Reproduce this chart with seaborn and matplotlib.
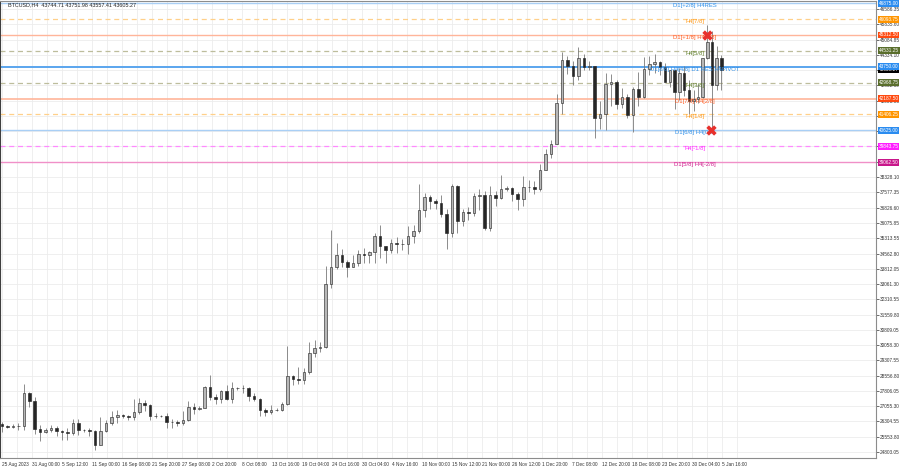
import matplotlib
matplotlib.use("Agg")
import matplotlib.pyplot as plt
import matplotlib.transforms as mtransforms
import seaborn as sns
import pandas as pd
import numpy as np

# daily candles, 25 Aug 2023 .. 5 Jan 2024
start = pd.Timestamp("2023-08-25")

opens = [26160, 26060, 26010, 26090, 26100, 27720, 27300,
         25930, 25800, 25870, 25970, 25820, 25780, 25750, 26240, 25910, 25890, 25830, 25160, 25840, 26230,
         26530, 26600, 26570, 26530, 26760, 27210, 27130, 26570, 26580, 26580, 26260, 26300, 26220, 26360, 27020, 26910,
         26970, 27990, 27500, 27430, 27780, 27410, 27930, 27960, 27930, 27580, 27390, 26870, 26760, 26860, 26860, 27150,
         28520, 28410, 28330, 28720, 29680, 29920, 29990, 33080, 33900, 34500, 34150, 33900, 34090, 34530, 34500,
         34660, 35420, 34940, 34730, 35080, 35050, 35050, 35420, 35650, 36700, 37330, 37140, 37070, 36500, 35550,
         37880, 36160, 36600, 36580, 37380, 37450, 35800, 37420, 37300, 37720, 37790, 37480, 37240, 37830, 37850,
         37720, 38690, 39470, 39970, 41980, 44080, 43770, 43290, 44170, 43720, 43790, 41240, 41450, 42890, 43020, 41940,
         42260, 41360, 42660, 42260, 43660, 43870, 43990, 43740, 43010, 43590, 42520, 43440, 42590, 42070, 42140,
         42280, 44180, 44950, 42850, 44180]
highs = [26300, 26120, 26180, 26240, 28140, 27760, 27500,
         26130, 25980, 26130, 26080, 25880, 26000, 26440, 26420, 25940, 25960, 25880, 26530, 26390, 26800,
         26890, 26670, 26620, 27400, 27480, 27380, 27150, 26720, 26630, 26730, 26420, 26400, 26820, 27300, 27220, 27080,
         28050, 28580, 27650, 27830, 28120, 28260, 28020, 28110, 27990, 27720, 27470, 26950, 27100, 26970, 27270, 30000,
         28610, 28980, 28920, 30200, 30320, 30220, 33950, 35700, 35100, 34800, 34250, 34480, 34740, 34840, 34700,
         35580, 35980, 34940, 35260, 35390, 35280, 35900, 35980, 37970, 37520, 37420, 37230, 37420, 36760, 37960,
         37930, 36760, 36850, 37520, 37760, 37650, 37870, 37650, 38420, 37900, 37820, 37580, 38380, 38180, 38150,
         38980, 39700, 40170, 42400, 44490, 44300, 44050, 44700, 44360, 44040, 43800, 42070, 43440, 43400, 43090, 42700,
         42420, 42750, 43480, 44240, 44290, 44370, 44020, 43950, 43600, 43600, 43680, 43800, 43120, 42600, 42880,
         44200, 45800, 45500, 44770, 44340]
lows = [25780, 25990, 25990, 25880, 25900, 27030, 25700,
        25330, 25730, 25800, 25600, 25400, 25400, 25640, 25650, 25800, 25600, 24920, 25130, 25770, 26130,
        26230, 26480, 26400, 26380, 26680, 26840, 26360, 26500, 26520, 26000, 25990, 26100, 26120, 26340, 26660, 26890,
        26960, 27340, 27170, 27220, 27370, 27190, 27860, 27700, 27300, 27320, 26560, 26560, 26680, 26820, 26820, 27120,
        28100, 28130, 28170, 28620, 29500, 29700, 29900, 32850, 33800, 33880, 33400, 33900, 33950, 34100, 34080,
        34100, 34350, 34100, 34590, 34570, 34750, 34540, 35100, 35560, 36350, 36760, 36760, 36370, 34780, 35370,
        35550, 35900, 36200, 36400, 36690, 35700, 35650, 36880, 37250, 37620, 37160, 36700, 36900, 37600, 37500,
        37620, 38650, 39280, 39970, 41420, 43400, 42830, 43080, 43580, 43580, 40230, 40700, 40620, 41810, 41660, 41720,
        41250, 40530, 41820, 42200, 43340, 43430, 43330, 43000, 42760, 41680, 42100, 42320, 41450, 41550, 41970,
        42200, 44150, 40600, 42630, 42630]
closes = [26060, 26010, 26090, 26100, 27720, 27300, 25930,
          25800, 25870, 25970, 25820, 25780, 25750, 26240, 25910, 25890, 25830, 25160, 25840, 26230, 26530,
          26600, 26570, 26530, 26760, 27210, 27130, 26570, 26580, 26580, 26260, 26300, 26220, 26360, 27020, 26910, 26970,
          27990, 27500, 27430, 27780, 27410, 27930, 27960, 27930, 27580, 27390, 26870, 26760, 26860, 26860, 27150, 28520,
          28410, 28330, 28720, 29680, 29920, 29990, 33080, 33900, 34500, 34150, 33900, 34090, 34530, 34500, 34660,
          35420, 34940, 34730, 35080, 35050, 35050, 35420, 35650, 36700, 37330, 37140, 37070, 36500, 35550, 37880,
          36160, 36600, 36580, 37380, 37450, 35800, 37420, 37300, 37720, 37790, 37480, 37240, 37830, 37850, 37720,
          38690, 39470, 39970, 41980, 44080, 43770, 43290, 44170, 43720, 43790, 41240, 41450, 42890, 43020, 41940, 42260,
          41360, 42660, 42260, 43660, 43870, 43990, 43740, 43010, 43590, 42520, 43440, 42590, 42070, 42140, 42280,
          44180, 44950, 42850, 44180, 43600]

# Murrey math levels drawn on the chart
level_prices = [46875.00, 46093.75, 45312.50, 44531.25, 43750.00, 42968.75,
                42187.50, 41406.25, 40625.00, 39843.75, 39062.50]
level_names = ["D1[+2/8] H4RES", "H4[7/8]", "D1[+1/8] H4[6/8]", "H4[5/8]",
               "D1[8/8] H4[4/8] D1 RES H4PIVOT", "H4[3/8]", "D1[7/8] H4[2/8]",
               "H4[1/8]", "D1[6/8] H4[0/8]", "H4[-1/8]", "D1[5/8] H4[-2/8]"]
level_colors = ["#2f8fe8", "#ff9a1a", "#ff5a1f", "#5f7f2a", "#2f8fe8", "#5f7f2a",
                "#ff5a1f", "#ff9a1a", "#2f8fe8", "#ff2cff", "#d0208f"]
line_colors = ["#a9cff5", "#ffd08a", "#ffb59a", "#bdbd9c", "#5aa5ee", "#bdbd9c",
               "#ffb59a", "#ffd08a", "#a9cff5", "#ff8aff", "#f090c8"]
line_dashed = [False, True, False, True, False, True, False, True, False, True, False]
line_widths = [1.0, 0.9, 1.0, 0.9, 1.4, 0.9, 1.2, 0.9, 1.0, 0.9, 1.0]
box_colors = ["#2a8cf0", "#ff9500", "#ff4a10", "#5a6e2c", "#2a8cf0", "#5a6e2c",
              "#ff4a10", "#ff9500", "#2a8cf0", "#ff1cff", "#c8168a"]

last_price = 43605.27
header = "BTCUSD,H4  43744.71 43751.98 43557.41 43605.27"

# marks on the 2 Jan spike and the 3 Jan drop
mark_times = ["2024-01-02 12:00", "2024-01-03 06:00"]
mark_prices = [45312.50, 40625.00]

tick_times = ["2023-08-25 12:00", "2023-08-31 00:00", "2023-09-05 12:00", "2023-09-11 00:00",
              "2023-09-16 08:00", "2023-09-21 20:00", "2023-09-27 08:00", "2023-10-02 20:00",
              "2023-10-08 08:00", "2023-10-13 16:00", "2023-10-19 04:00", "2023-10-24 16:00",
              "2023-10-30 04:00", "2023-11-04 16:00", "2023-11-10 00:00", "2023-11-15 12:00",
              "2023-11-21 00:00", "2023-11-26 12:00", "2023-12-01 20:00", "2023-12-07 08:00",
              "2023-12-12 20:00", "2023-12-18 08:00", "2023-12-23 20:00", "2023-12-30 04:00",
              "2024-01-05 16:00"]
tick_labels = ["25 Aug 2023", "31 Aug 00:00", "5 Sep 12:00", "11 Sep 00:00", "16 Sep 08:00",
               "21 Sep 20:00", "27 Sep 08:00", "2 Oct 20:00", "8 Oct 08:00", "13 Oct 16:00",
               "19 Oct 04:00", "24 Oct 16:00", "30 Oct 04:00", "4 Nov 16:00", "10 Nov 00:00",
               "15 Nov 12:00", "21 Nov 00:00", "26 Nov 12:00", "1 Dec 20:00", "7 Dec 08:00",
               "12 Dec 20:00", "18 Dec 08:00", "23 Dec 20:00", "30 Dec 04:00", "5 Jan 16:00"]
y_ticks = [24803.05, 25553.80, 26304.55, 27055.30, 27806.05, 28556.80, 29307.55, 30058.30,
           30809.05, 31559.80, 32310.55, 33061.30, 33812.05, 34562.80, 35313.55, 36075.85,
           36826.60, 37577.35, 38328.10, 39078.85, 39829.60, 40580.35, 41331.10, 42081.85,
           42832.60, 43583.35, 44334.10, 45084.85, 45835.60, 46586.35]

sns.set_theme(style="whitegrid")
plt.rcParams["font.family"] = ["Liberation Sans", "DejaVu Sans"]

fig = plt.figure(figsize=(9, 4.68), dpi=100)
ax = fig.add_axes([0.0, 10 / 468, 876 / 900, 457 / 468])
ax.set_facecolor("white")

# bar-index axis like the terminal: time slots between date labels are equal
slot = 33
t_ticks = (pd.to_datetime(tick_times) - start) / pd.Timedelta("1D")
pos_ticks = np.arange(len(tick_labels)) * slot


def to_pos(t):
    return np.interp(t, t_ticks, pos_ticks)


t_days = np.arange(len(closes)) + 0.5
xpos = to_pos(t_days)
o = np.array(opens)
h = np.array(highs)
l = np.array(lows)
c = np.array(closes)
up = c >= o

ax.vlines(xpos, l, h, color="#7a7a7a", linewidth=0.6, zorder=3)
ax.bar(xpos[up], c[up] - o[up], bottom=o[up], width=2.8, color="#b8b8b8",
       edgecolor="#303030", linewidth=0.45, zorder=4)
ax.bar(xpos[~up], o[~up] - c[~up], bottom=c[~up], width=2.8, color="#262626",
       edgecolor="#262626", linewidth=0.45, zorder=4)

trans = mtransforms.blended_transform_factory(ax.transAxes, ax.transData)
for price, name, tc, lc, dash, lw in zip(level_prices, level_names, level_colors,
                                         line_colors, line_dashed, line_widths):
    ax.axhline(price, color=lc, linewidth=lw, linestyle=(0, (4, 3)) if dash else "-", zorder=2)
    ax.text(0.7934, price, name, transform=trans, ha="center", va="top",
            fontsize=4.2, color=tc, zorder=6)

mt = (pd.to_datetime(mark_times) - start) / pd.Timedelta("1D")
sns.scatterplot(x=to_pos(mt), y=mark_prices, marker="X", s=55, color="#e8302c",
                linewidth=0, ax=ax, zorder=7)

ax.set_xlim(-2 / (30 / slot), 874 / (30 / slot))
ax.set_ylim(24508.5, 46984)

ax.set_xticks(pos_ticks)
ax.set_xticklabels(tick_labels, ha="left")
ax.set_xticks(pos_ticks + slot / 2, minor=True)
ax.yaxis.tick_right()
ax.set_yticks(y_ticks)
ax.set_yticklabels([f"{v:.2f}" for v in y_ticks])
ax.tick_params(axis="both", labelsize=3.4, colors="#333333", length=2, width=0.5, pad=1)
ax.tick_params(axis="x", which="minor", length=0)
ax.grid(True, which="both", color="#ececec", linewidth=0.6)
ax.grid(False, which="minor", axis="y")
for side in ["left", "right", "top", "bottom"]:
    ax.spines[side].set_color("#8c8c8c")
    ax.spines[side].set_linewidth(0.8)
ax.spines["left"].set_color("#404040")

# coloured price boxes on the right scale
box_x = 1.0 + 2.5 / 876
ax.text(box_x, last_price, f"{last_price:.2f}", transform=trans, ha="left", va="center",
        fontsize=3.4, color="white", zorder=8, clip_on=False,
        bbox=dict(boxstyle="square,pad=0.2", fc="black", ec="none"))
for price, bc in zip(level_prices, box_colors):
    ax.text(box_x, price, f"{price:.2f}", transform=trans, ha="left", va="center",
            fontsize=3.4, color="white", zorder=9, clip_on=False,
            bbox=dict(boxstyle="square,pad=0.2", fc=bc, ec="none"))

fig.text(8 / 900, 1 - 4.5 / 468, header, fontsize=3.9, color="#222222", va="center", ha="left")

fig.savefig("out.png", dpi=100)
